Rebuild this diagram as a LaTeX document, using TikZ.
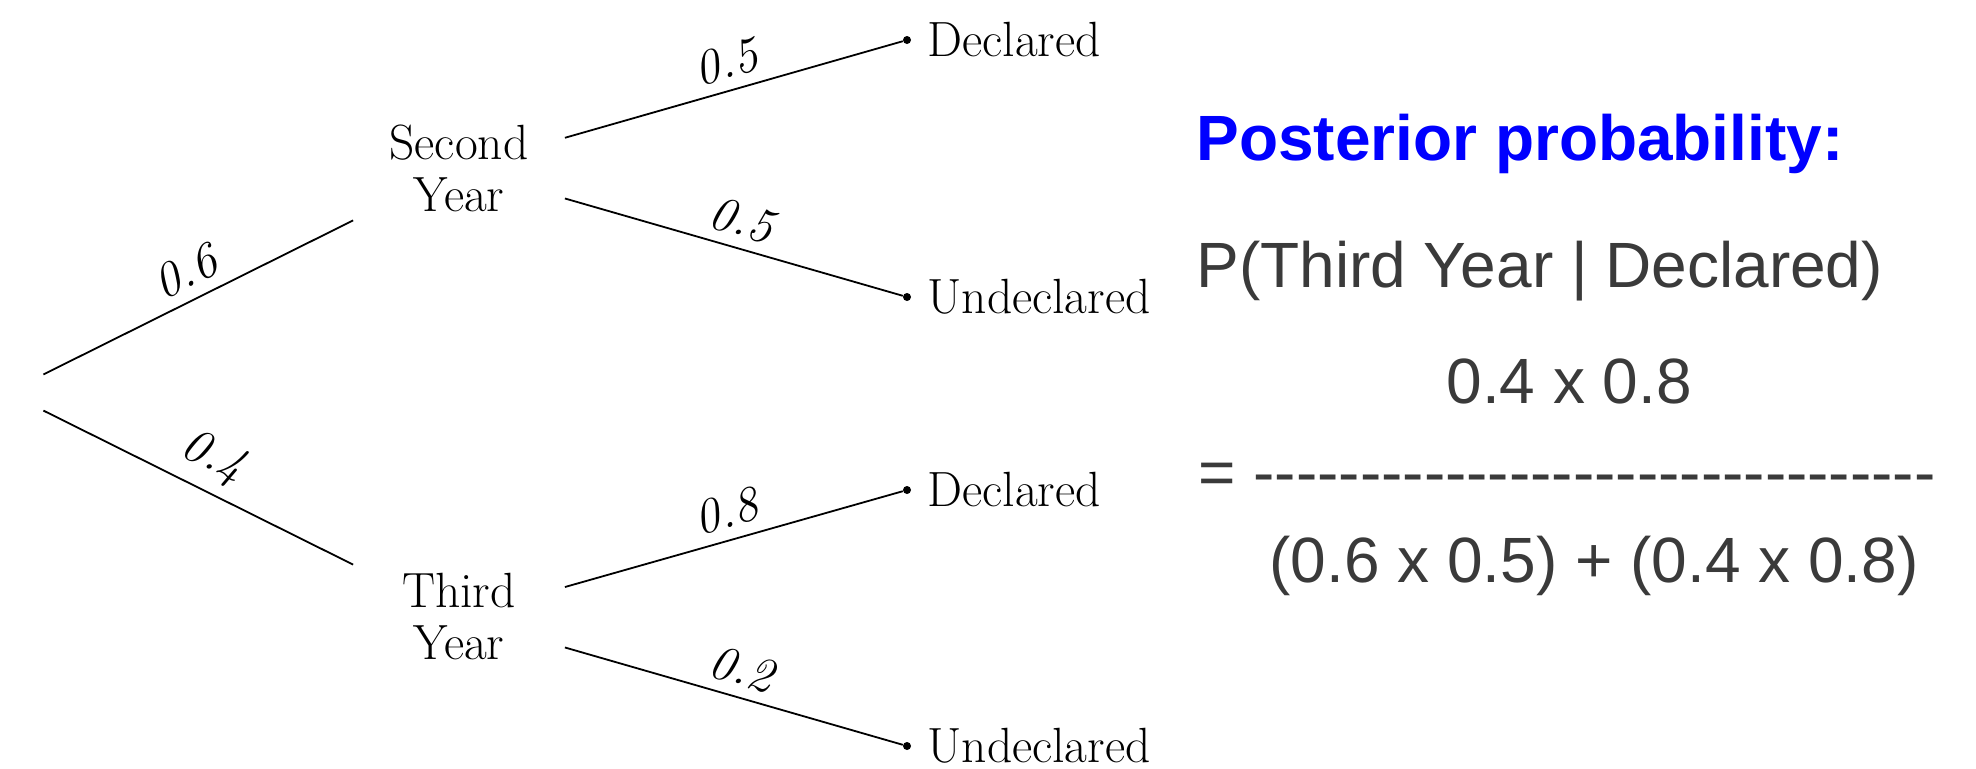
\documentclass[tikz,border=0pt]{standalone}
\usepackage{fontspec}
\newfontfamily\arialf{Liberation Sans}
\definecolor{txtgray}{HTML}{3A3A3A}
\definecolor{titleblue}{HTML}{0000FF}
\newcommand\hyq{\mbox{-}\mbox{-}\mbox{-}\mbox{-}}
\begin{document}
\begin{tikzpicture}[x=0.5pt,y=-0.5pt,
  tree/.style={font=\fontsize{24.75}{26}\selectfont},
  mid/.style={tree, align=center, minimum width=105.5pt, inner xsep=15pt, inner ysep=8pt},
  rootnode/.style={inner xsep=18pt, inner ysep=12pt},
  leaf/.style={circle, fill=black, inner sep=0pt, minimum size=4pt},
  prob/.style={font=\fontsize{24.75}{26}\selectfont\itshape, midway, above=2pt, sloped},
  branch/.style={line width=0.9pt},
  leaflab/.style={label={[tree, inner ysep=1pt, label distance=4.5pt]right:#1}},
  formula/.style={anchor=base west, inner sep=0pt, text=txtgray, font=\arialf\fontsize{32}{38}\selectfont}
]
\useasboundingbox (0,0) rectangle (1976,768);

% tree nodes
\node[rootnode] (r) at (7,392.5) {};
\node[mid] (sy) at (459,168) {Second\\Year};
\node[mid] (ty) at (459,617) {Third\\Year};
\node[leaf, leaflab=Declared] (d1) at (907,40) {};
\node[leaf, leaflab=Undeclared] (u1) at (907,297) {};
\node[leaf, leaflab=Declared] (d2) at (907,490) {};
\node[leaf, leaflab=Undeclared] (u2) at (907,746) {};

% branches
\draw[branch] (r) -- node[prob] {0.6} (sy);
\draw[branch] (r) -- node[prob] {0.4} (ty);
\draw[branch] (sy) -- node[prob] {0.5} (d1);
\draw[branch] (sy) -- node[prob] {0.5} (u1);
\draw[branch] (ty) -- node[prob] {0.8} (d2);
\draw[branch] (ty) -- node[prob] {0.2} (u2);

% posterior text
\node[anchor=base west, inner sep=0pt, text=titleblue,
      font=\arialf\fontsize{32}{38}\selectfont\bfseries] (title) at (1196,160) {Posterior probability:};
\node[formula] (cond) at (1196,287) {P(Third Year | Declared)};
\node[formula] (num) at (1446,403) {0.4 x 0.8};
\node[formula] (eq) at (1198,494) {= \hyq\hyq\hyq\hyq\hyq\hyq\hyq\hyq};
\node[formula] (den) at (1269,582) {(0.6 x 0.5) + (0.4 x 0.8)};
\end{tikzpicture}
\end{document}
